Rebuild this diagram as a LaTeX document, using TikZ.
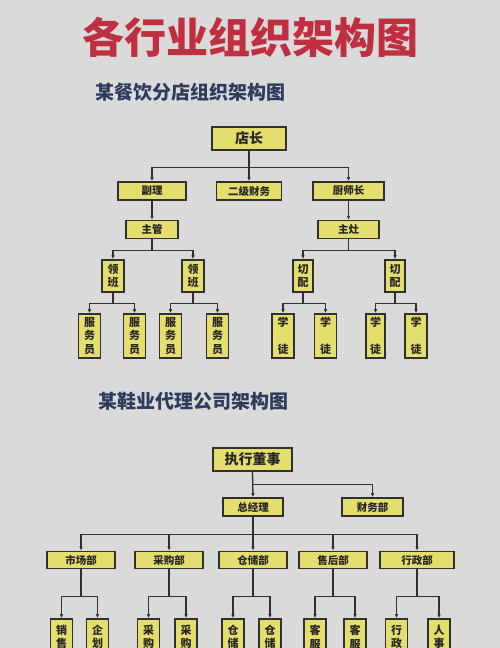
\documentclass[tikz,border=0pt]{standalone}
\usepackage{fontspec}
\setmainfont{Noto Sans CJK SC}
\usetikzlibrary{arrows.meta, positioning}
\definecolor{bgGray}{HTML}{DADADA}
\definecolor{boxYellow}{HTML}{E4DE6E}
\definecolor{titleRed}{HTML}{BF2F40}
\definecolor{subNavy}{HTML}{2D3C5C}
\definecolor{lineGray}{HTML}{303030}

\begin{document}
\begin{tikzpicture}[x=1pt, y=-1pt, >={Latex[length=4pt,width=3.5pt]},
                    box/.style={draw=lineGray, line width=1.6pt, fill=boxYellow, inner sep=0pt,
                                text=black!85, font=\bfseries\fontsize{10.5}{12}\selectfont},
                    topbox/.style={box, minimum height=23pt, font=\bfseries\fontsize{14}{16}\selectfont},
                    midbox/.style={box, minimum height=18pt},
                    vbox/.style={box, minimum width=22pt, align=center, font=\bfseries\fontsize{11}{13.5}\selectfont},
                    link/.style={->, draw=lineGray, line width=1.3pt}]

% Background
\path[use as bounding box, clip] (0,0) rectangle (500,648);
\fill[bgGray] (0,0) rectangle (500,648);

% Titles
\node[inner sep=0pt, text=titleRed, font=\bfseries\fontsize{42}{46}\selectfont] (title) at (250,37) {各行业组织架构图};
\node[anchor=west, inner sep=0pt, text=subNavy, font=\bfseries\fontsize{19}{22}\selectfont] (subA) at (95,92) {某餐饮分店组织架构图};
\node[anchor=west, inner sep=0pt, text=subNavy, font=\bfseries\fontsize{19}{22}\selectfont] (subB) at (98,401) {某鞋业代理公司架构图};

% Restaurant chart
\node[topbox, minimum width=74pt] (dz) at (249,138.5) {店长};
\node[midbox, minimum width=68pt] (fl) at (152,191) {副理};
\node[midbox, minimum width=65pt] (ej) at (249,191) {二级财务};
\node[midbox, minimum width=71pt] (cs) at (348.5,191) {厨师长};
\node[midbox, minimum width=52pt, below=19pt of fl] (zg) {主管};
\node[midbox, minimum width=61pt, below=19pt of cs] (zz) {主灶};

\node[vbox, minimum height=32pt] (lbA) at (113,276) {领\\班};
\node[vbox, minimum height=32pt] (lbB) at (193,276) {领\\班};
\node[vbox, minimum width=20pt, minimum height=32pt] (qpA) at (303,276) {切\\配};
\node[vbox, minimum width=20pt, minimum height=32pt] (qpB) at (395,276) {切\\配};

\node[vbox, minimum height=44pt] (fwA) at (89.5,336) {服\\务\\员};
\node[vbox, minimum height=44pt] (fwB) at (134.5,336) {服\\务\\员};
\node[vbox, minimum height=44pt] (fwC) at (170.5,336) {服\\务\\员};
\node[vbox, minimum height=44pt] (fwD) at (217.5,336) {服\\务\\员};
\node[vbox, minimum height=44pt] (xtA) at (283,336) {学\\[14pt]徒};
\node[vbox, minimum height=44pt] (xtB) at (325.5,336) {学\\[14pt]徒};
\node[vbox, minimum width=19pt, minimum height=44pt] (xtC) at (375.5,336) {学\\[14pt]徒};
\node[vbox, minimum height=44pt] (xtD) at (416,336) {学\\[14pt]徒};

% Shoe agency chart
\node[topbox, minimum width=79pt] (zs) at (252.5,459.5) {执行董事};
\node[midbox, minimum width=60pt] (zjl) at (253,507) {总经理};
\node[midbox, minimum width=61pt] (cwb) at (372.5,507) {财务部};

\node[midbox, minimum width=68pt, minimum height=17pt] (scb) at (81,560) {市场部};
\node[midbox, minimum width=68pt, minimum height=17pt] (cgb) at (169,560) {采购部};
\node[midbox, minimum width=68pt, minimum height=17pt] (ccb) at (253,560) {仓储部};
\node[midbox, minimum width=68pt, minimum height=17pt] (shb) at (333,560) {售后部};
\node[midbox, minimum width=74pt, minimum height=17pt] (xzb) at (417,560) {行政部};

\node[vbox, minimum height=36pt] (xs) at (61.5,637) {销\\售};
\node[vbox, minimum height=36pt] (qh) at (97.5,637) {企\\划};
\node[vbox, minimum height=36pt] (cgA) at (148.5,637) {采\\购};
\node[vbox, minimum height=36pt] (cgB) at (186,637) {采\\购};
\node[vbox, minimum height=36pt] (ccA) at (233,637) {仓\\储};
\node[vbox, minimum height=36pt] (ccB) at (270,637) {仓\\储};
\node[vbox, minimum height=36pt] (kfA) at (315,637) {客\\服};
\node[vbox, minimum height=36pt] (kfB) at (355,637) {客\\服};
\node[vbox, minimum height=36pt] (xz) at (396.5,637) {行\\政};
\node[vbox, minimum height=36pt] (rs) at (439,637) {人\\事};

% Connections, restaurant
\draw[link] (dz.south) -- (ej.north);
\draw[link] (dz.south) -- ++(0,17) -| (fl.north);
\draw[link] (dz.south) -- ++(0,17) -| (cs.north);
\draw[link] (fl) -- (zg);
\draw[link] (cs) -- (zz);

\draw[link] (zg.south) -- ++(0,11) -| (lbA.north);
\draw[link] (zg.south) -- ++(0,11) -| (lbB.north);
\draw[link] (zz.south) -- ++(0,11) -| (qpA.north);
\draw[link] (zz.south) -- ++(0,11) -| (qpB.north);

\draw[link] (lbA.south) -- ++(0,11) -| (fwA.north);
\draw[link] (lbA.south) -- ++(0,11) -| (fwB.north);
\draw[link] (lbB.south) -- ++(0,11) -| (fwC.north);
\draw[link] (lbB.south) -- ++(0,11) -| (fwD.north);
\draw[link] (qpA.south) -- ++(0,11) -| (xtA.north);
\draw[link] (qpA.south) -- ++(0,11) -| (xtB.north);
\draw[link] (qpB.south) -- ++(0,11) -| (xtC.north);
\draw[link] (qpB.south) -- ++(0,11) -| (xtD.north);

% Connections, shoe agency
\draw[link] (zs.south) -- (zjl.north);
\draw[link] (zs.south) -- ++(0,13) -| (cwb.north);

\draw[link] (zjl.south) -- ++(0,18) -| (scb.north);
\draw[link] (zjl.south) -- ++(0,18) -| (cgb.north);
\draw[link] (zjl.south) -- (ccb.north);
\draw[link] (zjl.south) -- ++(0,18) -| (shb.north);
\draw[link] (zjl.south) -- ++(0,18) -| (xzb.north);

\draw[link] (scb.south) -- ++(0,27) -| (xs.north);
\draw[link] (scb.south) -- ++(0,27) -| (qh.north);
\draw[link] (cgb.south) -- ++(0,27) -| (cgA.north);
\draw[link] (cgb.south) -- ++(0,27) -| (cgB.north);
\draw[link] (ccb.south) -- ++(0,27) -| (ccA.north);
\draw[link] (ccb.south) -- ++(0,27) -| (ccB.north);
\draw[link] (shb.south) -- ++(0,27) -| (kfA.north);
\draw[link] (shb.south) -- ++(0,27) -| (kfB.north);
\draw[link] (xzb.south) -- ++(0,27) -| (xz.north);
\draw[link] (xzb.south) -- ++(0,27) -| (rs.north);

\end{tikzpicture}
\end{document}
